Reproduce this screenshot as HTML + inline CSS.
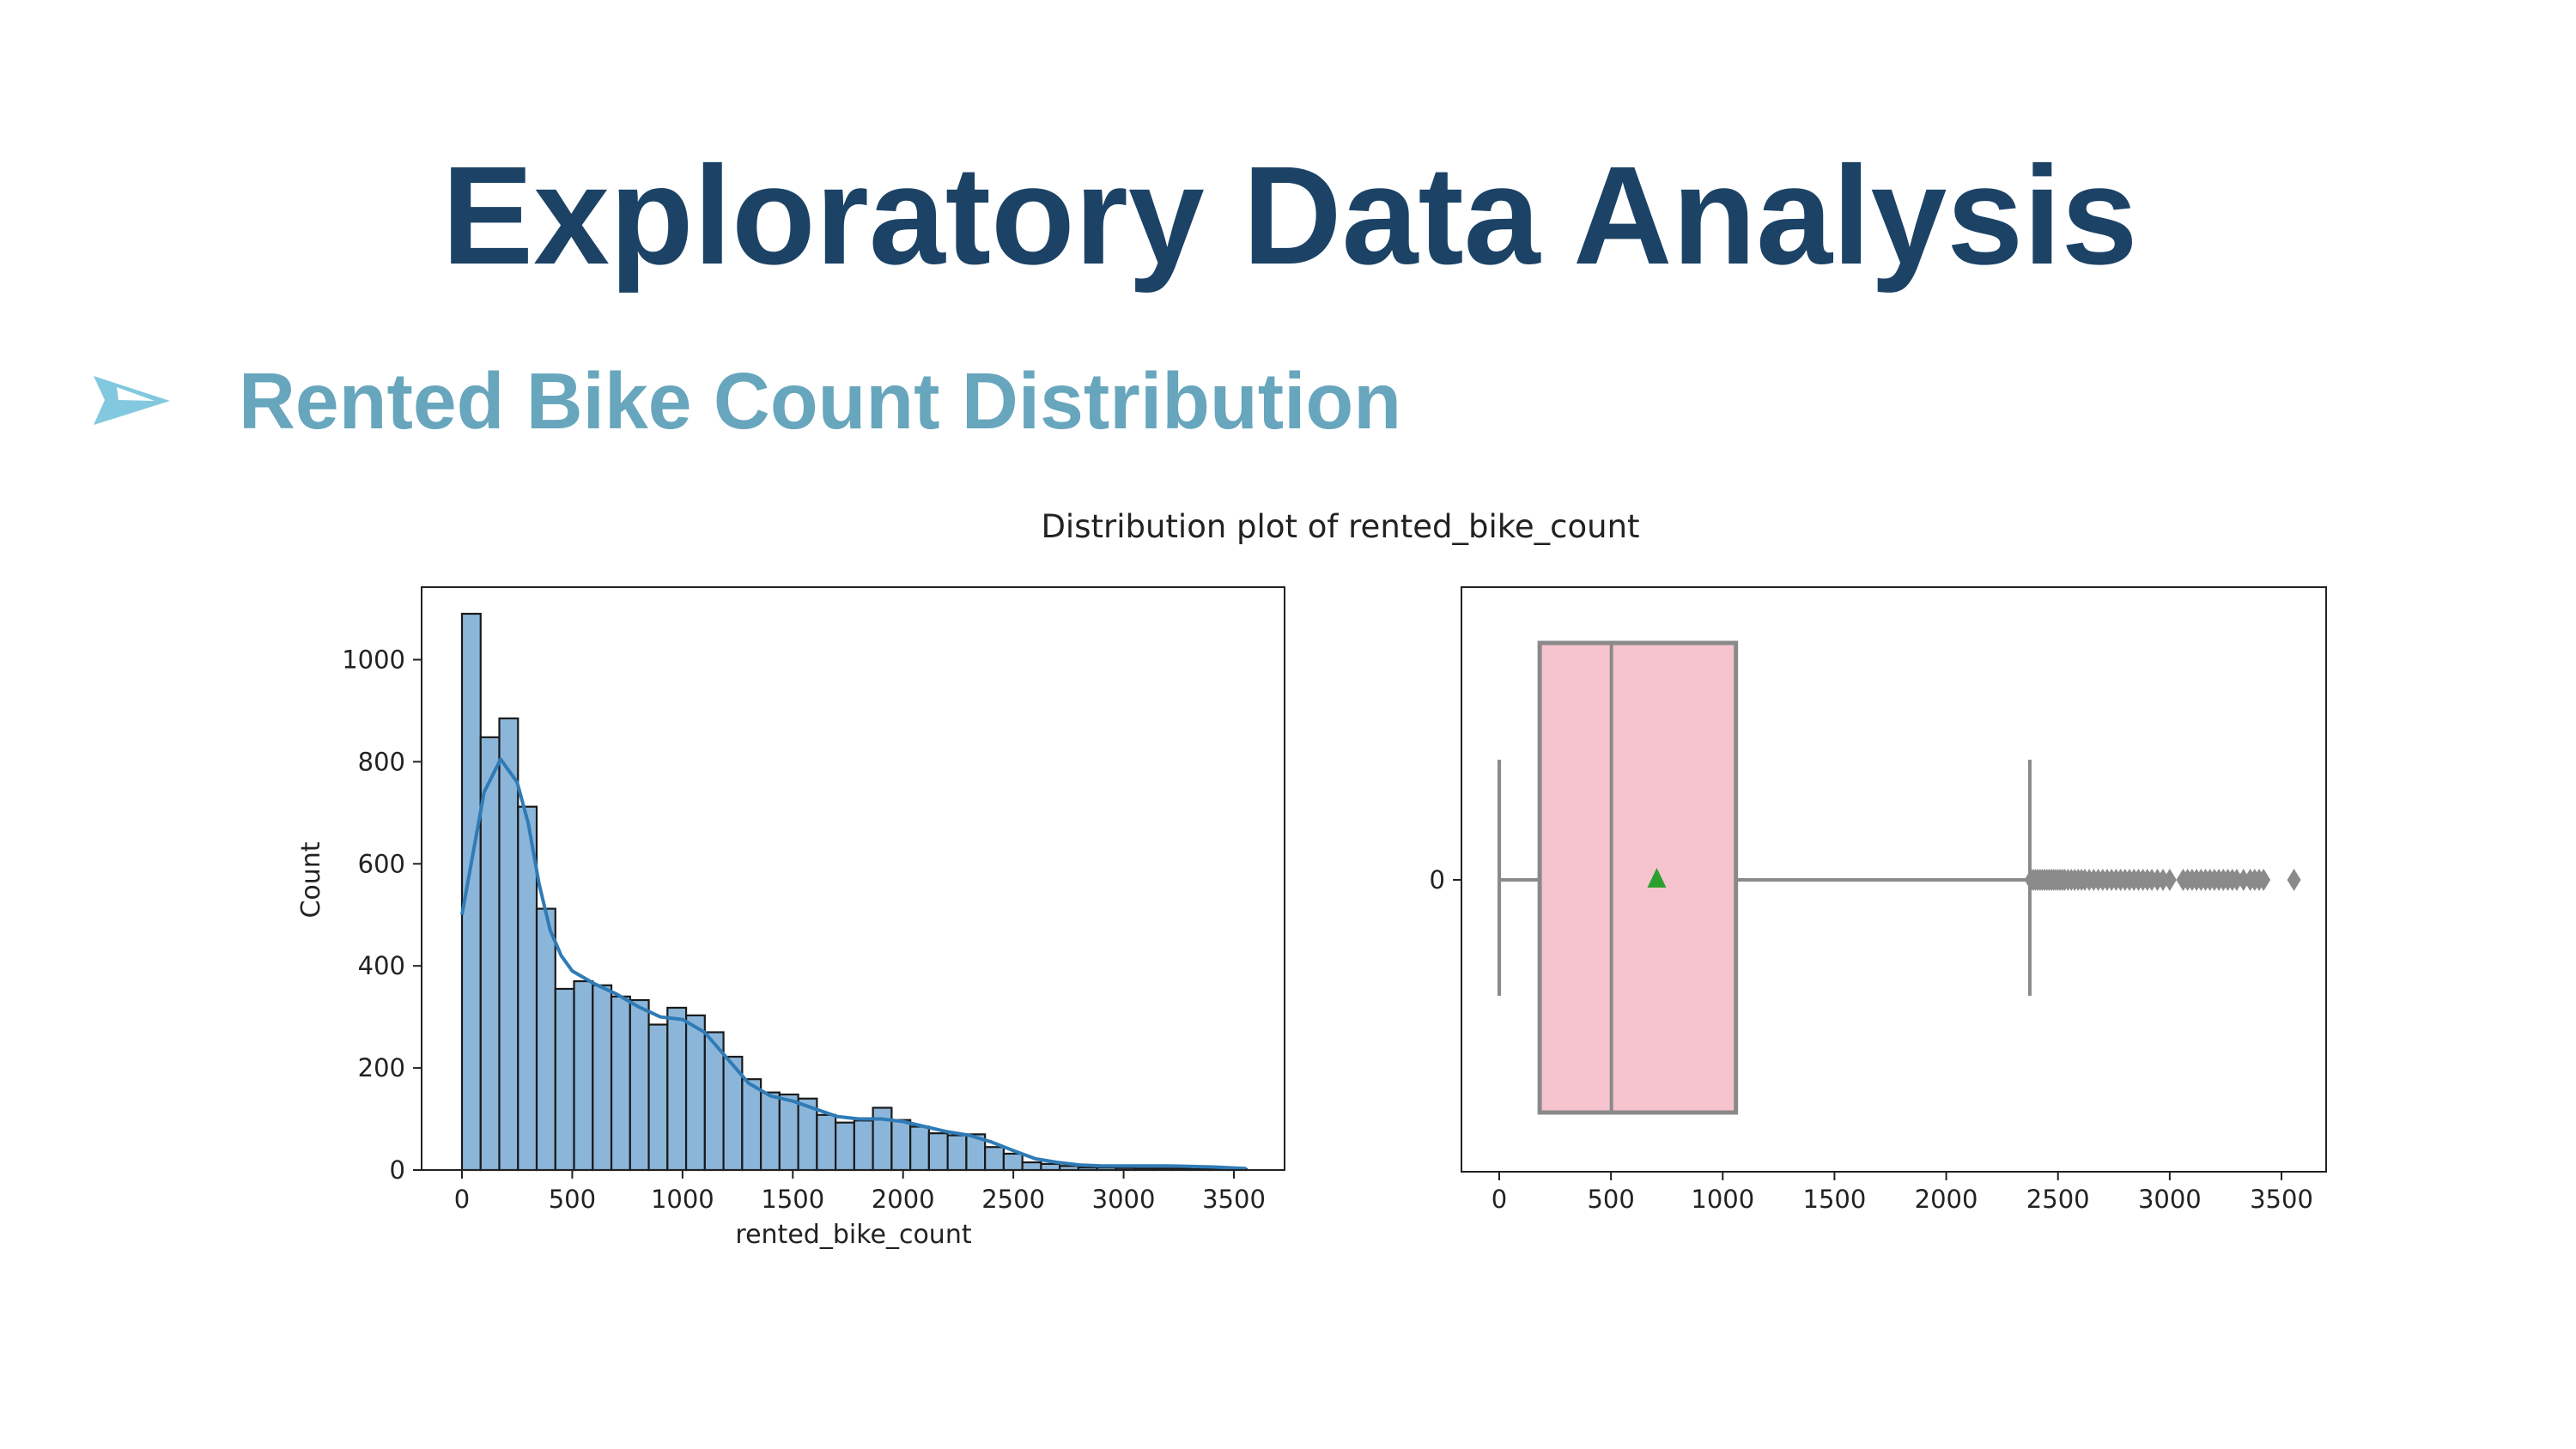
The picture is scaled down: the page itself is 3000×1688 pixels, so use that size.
<!DOCTYPE html>
<html><head><meta charset="utf-8"><style>
html,body{margin:0;padding:0;background:#fff;}
svg{display:block;}
</style></head><body>
<svg id="root" width="3000" height="1688" viewBox="0 0 3000 1688" xmlns="http://www.w3.org/2000/svg">
<rect width="3000" height="1688" fill="#fff"/>
<text x="1502" y="307" text-anchor="middle" textLength="1975" lengthAdjust="spacingAndGlyphs" font-family="Liberation Sans, sans-serif" font-weight="bold" font-size="163" fill="#1c4366">Exploratory Data Analysis</text>
<polygon points="109,438 198,467 109,495 122,466" fill="#82c8de"/>
<polygon points="136,451 180,467 138,466" fill="#fff"/>
<text x="278" y="499" textLength="1354" lengthAdjust="spacingAndGlyphs" font-family="Liberation Sans, sans-serif" font-weight="bold" font-size="93" fill="#67a6bd">Rented Bike Count Distribution</text>
<text x="1561" y="626" text-anchor="middle" font-family="DejaVu Sans, sans-serif" font-size="37" fill="#222">Distribution plot of rented_bike_count</text>
<g id="hist"></g>
<g id="box"></g>
</svg>
<script>
// Histogram data
const binStart = 0;
const binWidth = 84.7;
const counts = [1090,848,885,712,512,355,370,362,340,333,285,318,303,270,222,178,152,148,140,108,93,97,122,98,85,72,68,70,45,32,15,12,8,5,5,4,3,3,3,2,2,2];
const kdeX = [0,100,175,250,300,350,400,450,500,600,700,800,900,1000,1100,1200,1300,1400,1500,1600,1700,1800,1900,2000,2100,2200,2300,2400,2500,2600,2700,2800,2900,3000,3100,3200,3300,3400,3500,3556];
const kdeY = [500,740,805,760,680,560,470,420,390,365,345,320,300,295,270,220,170,145,135,120,105,100,100,95,85,75,68,55,38,22,15,10,8,8,8,8,7,6,4,3];
const xTicks = [0,500,1000,1500,2000,2500,3000,3500];
const yTicks = [0,200,400,600,800,1000];
// Boxplot data
const boxQ1 = 181, boxMedian = 502, boxQ3 = 1059, boxMean = 705;
const whiskerLow = 0, whiskerHigh = 2374;
const outliers = [2380,2390,2400,2410,2420,2430,2440,2450,2460,2470,2480,2490,2500,2510,2520,2530,2545,2560,2575,2590,2605,2620,2640,2660,2680,2700,2720,2740,2760,2780,2800,2820,2840,2860,2880,2900,2920,2945,2970,3000,3060,3080,3100,3120,3140,3160,3180,3200,3220,3240,3260,3280,3300,3330,3360,3380,3400,3420,3556];

const NS='http://www.w3.org/2000/svg';
function mk(parent,tag,attrs,text){const e=document.createElementNS(NS,tag);for(const k in attrs)e.setAttribute(k,attrs[k]);if(text!==undefined)e.textContent=text;parent.appendChild(e);return e;}
const font='DejaVu Sans, sans-serif';

// ---- Histogram ----
const H=document.getElementById('hist');
const hx=v=>538+v*(899/3500);
const hy=v=>1363-v*0.5945;
counts.forEach((c,i)=>{
  const x0=hx(binStart+i*binWidth), x1=hx(binStart+(i+1)*binWidth);
  const r=mk(H,'rect',{x:x0,y:hy(c),width:x1-x0,height:hy(0)-hy(c),fill:'#8bb6d9',stroke:'#1a1a1a','stroke-width':2.2});
  
  
});
let d='';
kdeX.forEach((x,i)=>{d+=(i?'L':'M')+hx(x).toFixed(1)+','+hy(kdeY[i]).toFixed(1);});
const kl=mk(H,'path',{d:d,fill:'none',stroke:'#2f7bb6','stroke-width':4,'stroke-linejoin':'round'});


const hf=mk(H,'rect',{x:491,y:684,width:1005,height:679,fill:'none',stroke:'#222','stroke-width':2});


xTicks.forEach(t=>{
  mk(H,'line',{x1:hx(t),x2:hx(t),y1:1363,y2:1373,stroke:'#222','stroke-width':2});
  const tl=mk(H,'text',{x:hx(t),y:1407,'text-anchor':'middle','font-family':font,'font-size':29,fill:'#222'},String(t));
  
  
});
yTicks.forEach(t=>{
  mk(H,'line',{x1:481,x2:491,y1:hy(t),y2:hy(t),stroke:'#222','stroke-width':2});
  const tl=mk(H,'text',{x:472,y:hy(t)+10,'text-anchor':'end','font-family':font,'font-size':29,fill:'#222'},String(t));
  
  
});
const xl=mk(H,'text',{x:994,y:1448,'text-anchor':'middle','font-family':font,'font-size':30,fill:'#222'},'rented_bike_count');


const yl=mk(H,'text',{x:0,y:0,transform:'translate(372,1025) rotate(-90)','text-anchor':'middle','font-family':font,'font-size':30,fill:'#222'},'Count');



// ---- Boxplot ----
const B=document.getElementById('box');
const bx=v=>1746+v*(911/3500);
const cy=1025;
const g='#8a8a8a';
const bf=mk(B,'rect',{x:1702,y:684,width:1007,height:681,fill:'none',stroke:'#222','stroke-width':2});


const wl=mk(B,'line',{x1:bx(whiskerLow),x2:bx(boxQ1),y1:cy,y2:cy,stroke:g,'stroke-width':4});


mk(B,'line',{x1:bx(whiskerLow),x2:bx(whiskerLow),y1:885,y2:1160,stroke:g,'stroke-width':4});
const wh=mk(B,'line',{x1:bx(boxQ3),x2:bx(whiskerHigh),y1:cy,y2:cy,stroke:g,'stroke-width':4});


mk(B,'line',{x1:bx(whiskerHigh),x2:bx(whiskerHigh),y1:885,y2:1160,stroke:g,'stroke-width':4});
const bb=mk(B,'rect',{x:bx(boxQ1),y:749,width:bx(boxQ3)-bx(boxQ1),height:547,fill:'#f6c4cf',stroke:g,'stroke-width':5});


const md=mk(B,'line',{x1:bx(boxMedian),x2:bx(boxMedian),y1:749,y2:1296,stroke:g,'stroke-width':4});


outliers.forEach(v=>{
  const x=bx(v);
  const o=mk(B,'polygon',{points:`${x},${cy-13} ${x+8},${cy} ${x},${cy+13} ${x-8},${cy}`,fill:g});
  
  
});
const mx=bx(boxMean);
const mt=mk(B,'polygon',{points:`${mx},${cy-14} ${mx+11},${cy+9} ${mx-11},${cy+9}`,fill:'#2ca02c'});


xTicks.forEach(t=>{
  mk(B,'line',{x1:bx(t),x2:bx(t),y1:1365,y2:1375,stroke:'#222','stroke-width':2});
  const tl=mk(B,'text',{x:bx(t),y:1407,'text-anchor':'middle','font-family':font,'font-size':29,fill:'#222'},String(t));
  
  
});
mk(B,'line',{x1:1692,x2:1702,y1:cy,y2:cy,stroke:'#222','stroke-width':2});
const c0=mk(B,'text',{x:1683,y:cy+10,'text-anchor':'end','font-family':font,'font-size':29,fill:'#222'},'0');


</script>
</body></html>
